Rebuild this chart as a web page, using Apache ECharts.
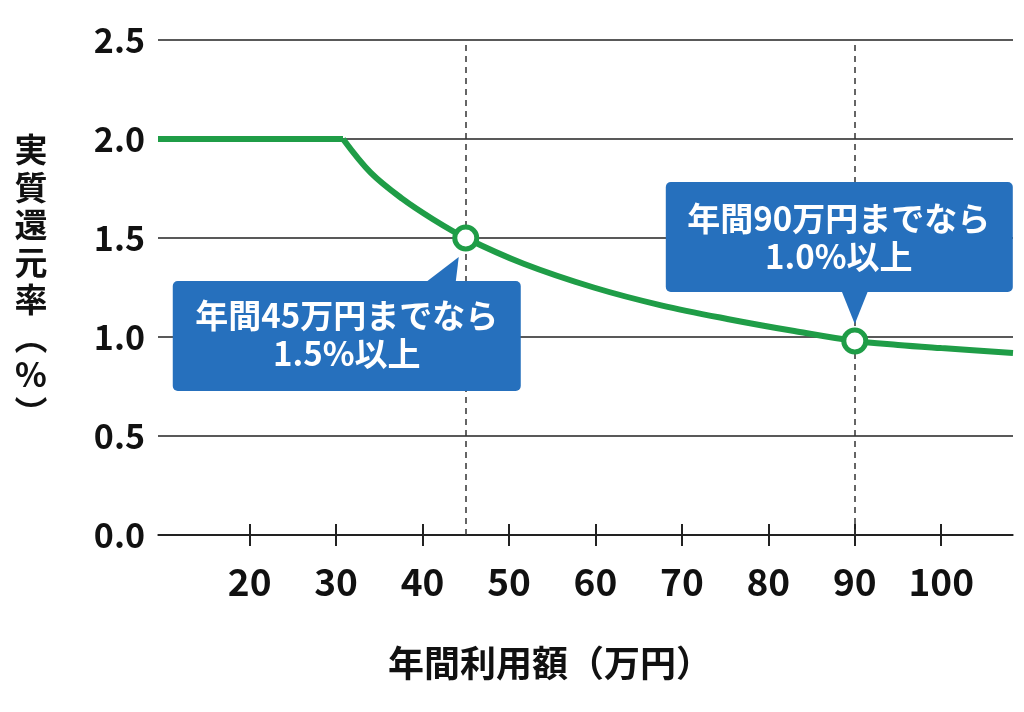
<!DOCTYPE html>
<html><head><meta charset="utf-8">
<script src="https://cdn.jsdelivr.net/npm/echarts@6/dist/echarts.min.js"></script>
<style>html,body{margin:0;padding:0;background:#fff}#c{width:1024px;height:712px}</style>
</head><body><div id="c"></div>
<script>
// ---- data ----
const xTicks = [20, 30, 40, 50, 60, 70, 80, 90, 100];
const xMin = 9.4, xMax = 108.3;
const yMin = 0, yMax = 2.5, yStep = 0.5;
const flatX = [9.4, 30.8];
const flatY = [2.0, 2.0];
const curveX = [30.8, 34.0, 37.6, 41.2, 45, 51.7, 59.8, 67.6, 75.4, 83.0, 90, 95, 100, 108.3];
const curveY = [2.0, 1.83, 1.70, 1.595, 1.5, 1.37, 1.25, 1.16, 1.09, 1.03, 0.98, 0.96, 0.944, 0.919];
const markX = [45, 90];
const markY = [1.5, 0.98];
const callout1 = ["年間45万円までなら", "1.5%以上"];
const callout2 = ["年間90万円までなら", "1.0%以上"];
const xName = "年間利用額（万円）";
const yName = "実質還元率（%）";

// ---- style ----
const FONT = '"Noto Sans CJK JP", "Noto Sans", sans-serif';
const GREEN = '#1f9d47';
const BLUE = '#2670bd';
const INK = '#111';

const pairs = (xs, ys) => xs.map((x, i) => [x, ys[i]]);
const vertical = s => s.replace('（', '︵').replace('）', '︶').split('').join('\n');

const chart = echarts.init(document.getElementById('c'), null, {renderer: 'canvas'});
chart.setOption({
  backgroundColor: '#fff',
  animation: false,
  grid: {left: 158, right: 11, top: 40, bottom: 177, containLabel: false},
  xAxis: [{
    type: 'value', min: xMin, max: xMax,
    axisLine: {show: true, onZero: false, lineStyle: {color: INK, width: 1.5}},
    axisTick: {show: true, customValues: xTicks, inside: true, length: 11, lineStyle: {color: '#222', width: 2}},
    axisLabel: {customValues: xTicks, color: INK, fontFamily: FONT, fontWeight: 'bold', fontSize: 37, margin: 28},
    splitLine: {show: false}
  }, {
    type: 'value', min: xMin, max: xMax, position: 'bottom',
    axisLine: {show: false},
    axisTick: {show: true, customValues: xTicks, inside: false, length: 11, lineStyle: {color: '#222', width: 2}},
    axisLabel: {show: false},
    splitLine: {show: false}
  }],
  yAxis: {
    type: 'value', min: yMin, max: yMax, interval: yStep,
    axisLine: {show: false}, axisTick: {show: false},
    axisLabel: {formatter: v => v.toFixed(1), color: INK, fontFamily: FONT, fontWeight: 'bold', fontSize: 34, margin: 13},
    splitLine: {lineStyle: {color: '#222', width: 1.5}}
  },
  series: [{
    type: 'line', data: pairs(flatX, flatY), symbol: 'none', z: 3,
    lineStyle: {color: GREEN, width: 6},
    markLine: {
      silent: true, symbol: 'none', label: {show: false},
      lineStyle: {color: '#333', width: 1.5, type: [6, 5]},
      data: markX.map(x => ({xAxis: x}))
    }
  }, {
    type: 'line', data: pairs(curveX, curveY), symbol: 'none', smooth: 0.35, z: 3,
    lineStyle: {color: GREEN, width: 6}
  }, {
    type: 'scatter', data: pairs(markX, markY), symbol: 'circle', symbolSize: 22, z: 5,
    itemStyle: {color: '#fff', borderColor: GREEN, borderWidth: 5, opacity: 1}
  }]
});

function callout(mx, my, lines, box, tri, t1, t2, cx) {
  const f = 'bold 33px ' + FONT;
  return [
    {type: 'rect', z: 10, shape: {x: mx + box[0], y: my + box[1], width: box[2], height: box[3], r: 5}, style: {fill: BLUE}},
    {type: 'polygon', z: 10, shape: {points: tri.map(p => [mx + p[0], my + p[1]])}, style: {fill: BLUE}},
    {type: 'text', z: 11, x: mx + cx, y: my + t1, style: {text: lines[0], fill: '#fff', font: f, align: 'center', verticalAlign: 'middle'}},
    {type: 'text', z: 11, x: mx + cx, y: my + t2, style: {text: lines[1], fill: '#fff', font: f, align: 'center', verticalAlign: 'middle'}}
  ];
}

const p1 = chart.convertToPixel({gridIndex: 0}, [markX[0], markY[0]]);
const p2 = chart.convertToPixel({gridIndex: 0}, [markX[1], markY[1]]);

const g = [].concat(
  callout(p1[0], p1[1], callout1, [-293, 43, 348, 110], [[-39, 43.5], [-10, 43.5], [-7, 19]], 77, 115, -119),
  callout(p2[0], p2[1], callout2, [-189, -159, 347, 110], [[-13, -49.5], [13, -49.5], [0, -17]], -123, -85, -16),
  [
    {type: 'text', x: 550, y: 663, style: {text: xName, fill: INK, font: 'bold 36px ' + FONT, align: 'center', verticalAlign: 'middle'}},
    {type: 'text', x: 31, y: 281, style: {text: vertical(yName), fill: INK, font: 'bold 33px ' + FONT, lineHeight: 37.5, align: 'center', verticalAlign: 'middle'}}
  ]
);
chart.setOption({graphic: g});
</script>
</body></html>
